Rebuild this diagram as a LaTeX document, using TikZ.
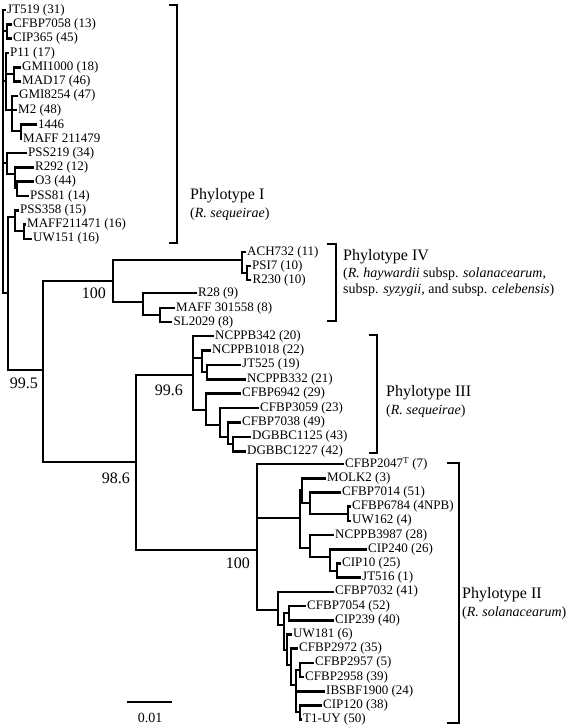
\documentclass[tikz,border=0pt]{standalone}
\usepackage{fontspec}
\setmainfont{Liberation Serif}
\usetikzlibrary{positioning}

\begin{document}
\begin{tikzpicture}[x=1pt, y=-1pt]
\tikzstyle{br}=[line width=2.6pt]
\tikzstyle{brk}=[line width=2.6pt]
\tikzstyle{tip}=[anchor=west, inner sep=1.5pt, font=\fontsize{13}{13}\selectfont]
\tikzstyle{boot}=[anchor=north east, inner sep=0pt, font=\fontsize{16}{16}\selectfont]
\tikzstyle{clade}=[anchor=west, inner sep=0pt, font=\fontsize{16}{16}\selectfont]
\tikzstyle{sub}=[anchor=west, inner sep=0pt, font=\fontsize{14}{16}\selectfont, align=left]
\useasboundingbox (0,0) rectangle (568,728);

% phylotype I
\coordinate (r0) at (3,150);
\coordinate (r1) at (8,293);
\node[tip] (jt519) at (5.5,10) {JT519 (31)};
\coordinate (a1) at (7,31);
\node[tip] (cfbp7058) at (11.5,24.3) {CFBP7058 (13)};
\node[tip] (cip365) at (11.5,38.6) {CIP365 (45)};
\coordinate (a2) at (6,81);
\node[tip] (p11) at (8.5,52.9) {P11 (17)};
\coordinate (a3) at (14,74);
\node[tip] (gmi1000) at (20.5,67.2) {GMI1000 (18)};
\node[tip] (mad17) at (20.5,81.5) {MAD17 (46)};
\coordinate (a4) at (12,110);
\node[tip] (gmi8254) at (17.5,95.8) {GMI8254 (47)};
\node[tip] (m2) at (16.5,110.1) {M2 (48)};
\coordinate (a5) at (21,131);
\node[tip] (t1446) at (36.5,124.4) {1446};
\node[tip] (maff211479) at (21.5,138.7) {MAFF 211479};
\coordinate (b1) at (7,163);
\node[tip] (pss219) at (26.5,153) {PSS219 (34)};
\coordinate (b2) at (15,174);
\node[tip] (r292) at (33.5,167.3) {R292 (12)};
\coordinate (b3) at (17,188);
\node[tip] (o3) at (33.5,181.6) {O3 (44)};
\node[tip] (pss81) at (28.5,195.9) {PSS81 (14)};
\coordinate (c1) at (15,217);
\node[tip] (pss358) at (18.5,210.2) {PSS358 (15)};
\coordinate (c2) at (24,231);
\node[tip] (maff211471) at (25.5,224.5) {MAFF211471 (16)};
\node[tip] (uw151) at (31.5,238.8) {UW151 (16)};

\draw[br] (r0) |- (jt519.west) (r0) |- (a1) (r0) |- (a2) (r0) |- (b1) (r0) |- (r1);
\draw[br] (a1) |- (cfbp7058.west) (a1) |- (cip365.west);
\draw[br] (a2) |- (p11.west) (a2) |- (a3) (a2) |- (a4);
\draw[br] (a3) |- (gmi1000.west) (a3) |- (mad17.west);
\draw[br] (a4) |- (gmi8254.west) (a4) |- (m2.west) (a4) |- (a5);
\draw[br] (a5) |- (t1446.west) (a5) |- (maff211479.west);
\draw[br] (b1) |- (pss219.west) (b1) |- (b2);
\draw[br] (b2) |- (r292.west) (b2) |- (b3);
\draw[br] (b3) |- (o3.west) (b3) |- (pss81.west);
\draw[br] (c1) |- (pss358.west) (c1) |- (c2);
\draw[br] (c2) |- (maff211471.west) (c2) |- (uw151.west);

% backbone
\coordinate (n95) at (43,370);
\coordinate (n986) at (136,462);
\draw[br] (r1) |- (c1) (r1) |- (n95);

% phylotype IV
\coordinate (p4) at (113,281);
\coordinate (q1) at (242,260);
\node[tip] (ach732) at (245.5,252) {ACH732 (11)};
\coordinate (q2) at (247,273);
\node[tip] (psi7) at (250.5,266) {PSI7 (10)};
\node[tip] (r230) at (251,280) {R230 (10)};
\coordinate (q3) at (143,302);
\node[tip] (r28) at (196.5,293) {R28 (9)};
\coordinate (q4) at (160,315);
\node[tip] (maff301558) at (174.5,308) {MAFF 301558 (8)};
\node[tip] (sl2029) at (172,322) {SL2029 (8)};

\draw[br] (n95) |- (p4) (n95) |- (n986);
\draw[br] (p4) |- (q1) (p4) |- (q3);
\draw[br] (q1) |- (ach732.west) (q1) |- (q2);
\draw[br] (q2) |- (psi7.west) (q2) |- (r230.west);
\draw[br] (q3) |- (r28.west) (q3) |- (q4);
\draw[br] (q4) |- (maff301558.west) (q4) |- (sl2029.west);

% phylotype III
\coordinate (p3) at (193,375);
\node[tip] (ncppb342) at (213.5,336) {NCPPB342 (20)};
\coordinate (q5) at (202,358);
\node[tip] (ncppb1018) at (210.5,350.4) {NCPPB1018 (22)};
\coordinate (q6) at (207,372);
\node[tip] (jt525) at (240.5,364.8) {JT525 (19)};
\node[tip] (ncppb332) at (245.5,379.2) {NCPPB332 (21)};
\coordinate (q7) at (206,410);
\node[tip] (cfbp6942) at (240.5,393.6) {CFBP6942 (29)};
\coordinate (q8) at (220,425);
\node[tip] (cfbp3059) at (258.5,408) {CFBP3059 (23)};
\coordinate (q9) at (228,437);
\node[tip] (cfbp7038) at (240.5,422.4) {CFBP7038 (49)};
\coordinate (q10) at (233,444);
\node[tip] (dgbbc1125) at (250.5,436.8) {DGBBC1125 (43)};
\node[tip] (dgbbc1227) at (245.5,451.2) {DGBBC1227 (42)};

\draw[br] (n986) |- (p3);
\draw[br] (p3) |- (ncppb342.west) (p3) |- (q5) (p3) |- (q7);
\draw[br] (q5) |- (ncppb1018.west) (q5) |- (q6);
\draw[br] (q6) |- (jt525.west) (q6) |- (ncppb332.west);
\draw[br] (q7) |- (cfbp6942.west) (q7) |- (q8);
\draw[br] (q8) |- (cfbp3059.west) (q8) |- (q9);
\draw[br] (q9) |- (cfbp7038.west) (q9) |- (q10);
\draw[br] (q10) |- (dgbbc1125.west) (q10) |- (dgbbc1227.west);

% phylotype II
\coordinate (p2) at (257,550);
\node[tip] (cfbp2047) at (343.5,464) {CFBP2047\textsuperscript{T} (7)};
\coordinate (q11) at (300,518);
\coordinate (q13) at (302,490);
\node[tip] (molk2) at (325.5,478.2) {MOLK2 (3)};
\coordinate (q15) at (310,503);
\node[tip] (cfbp7014) at (340.5,492.4) {CFBP7014 (51)};
\coordinate (q16) at (348,514);
\node[tip] (cfbp6784) at (350.5,506.6) {CFBP6784 (4NPB)};
\node[tip] (uw162) at (350.5,520.8) {UW162 (4)};
\coordinate (q14) at (310,548);
\node[tip] (ncppb3987) at (333.5,535) {NCPPB3987 (28)};
\coordinate (q17) at (330,557);
\node[tip] (cip240) at (366.5,549.2) {CIP240 (26)};
\coordinate (q18) at (337,571);
\node[tip] (cip10) at (340.5,563.4) {CIP10 (25)};
\node[tip] (jt516) at (360.5,577.6) {JT516 (1)};
\coordinate (q12) at (278,610);
\node[tip] (cfbp7032) at (333.5,591.8) {CFBP7032 (41)};
\coordinate (q19) at (284,625);
\coordinate (q20) at (289,613);
\node[tip] (cfbp7054) at (305.5,606) {CFBP7054 (52)};
\node[tip] (cip239) at (333.5,620.2) {CIP239 (40)};
\coordinate (q21) at (287,650);
\node[tip] (uw181) at (291.5,634.4) {UW181 (6)};
\coordinate (q22) at (291,665);
\node[tip] (cfbp2972) at (297.5,648.6) {CFBP2972 (35)};
\coordinate (q23) at (296,685);
\coordinate (q24) at (300,670);
\node[tip] (cfbp2957) at (313.5,662.8) {CFBP2957 (5)};
\node[tip] (cfbp2958) at (303.5,677) {CFBP2958 (39)};
\node[tip] (ibsbf1900) at (324.5,691.2) {IBSBF1900 (24)};
\coordinate (q25) at (300,712);
\node[tip] (cip120) at (321.5,705.4) {CIP120 (38)};
\node[tip] (t1uy) at (301.5,719.6) {T1-UY (50)};

\draw[br] (n986) |- (p2);
\draw[br] (p2) |- (cfbp2047.west) (p2) |- (q11) (p2) |- (q12);
\draw[br] (q11) |- (q13) (q11) |- (q14);
\draw[br] (q13) |- (molk2.west) (q13) |- (q15);
\draw[br] (q15) |- (cfbp7014.west) (q15) |- (q16);
\draw[br] (q16) |- (cfbp6784.west) (q16) |- (uw162.west);
\draw[br] (q14) |- (ncppb3987.west) (q14) |- (q17);
\draw[br] (q17) |- (cip240.west) (q17) |- (q18);
\draw[br] (q18) |- (cip10.west) (q18) |- (jt516.west);
\draw[br] (q12) |- (cfbp7032.west) (q12) |- (q19);
\draw[br] (q19) |- (q20) (q19) |- (q21);
\draw[br] (q20) |- (cfbp7054.west) (q20) |- (cip239.west);
\draw[br] (q21) |- (uw181.west) (q21) |- (q22);
\draw[br] (q22) |- (cfbp2972.west) (q22) |- (q23);
\draw[br] (q23) |- (q24) (q23) |- (ibsbf1900.west) (q23) |- (q25);
\draw[br] (q24) |- (cfbp2957.west) (q24) |- (cfbp2958.west);
\draw[br] (q25) |- (cip120.west) (q25) |- (t1uy.west);

% bootstrap values
\node[boot] (s995) at ([shift={(-5,7.5)}]n95) {99.5};
\node[boot] (s100a) at ([shift={(-7,7)}]p4) {100};
\node[boot] (s996) at ([shift={(-10,10)}]p3) {99.6};
\node[boot] (s986) at ([shift={(-6,11)}]n986) {98.6};
\node[boot] (s100b) at ([shift={(-7,8)}]p2) {100};

% brackets
\draw[brk] (169,5) -- (177,5) -- (177,243) -- (169,243);
\draw[brk] (327,244) -- (336,244) -- (336,321) -- (327,321);
\draw[brk] (369,335) -- (377,335) -- (377,453) -- (369,453);
\draw[brk] (447,463) -- (459,463) -- (459,723) -- (447,723);
\node[clade] (labI) at (190,196) {Phylotype I};
\node[sub] (subI) at (190,214) {(\textit{R. sequeirae})};
\node[clade] (labIV) at (343,257) {Phylotype IV};
\node[sub, anchor=north west] (subIV) at (343,268) {(\textit{R. haywardii} subsp. \textit{solanacearum},\\subsp. \textit{syzygii}, and subsp. \textit{celebensis})};
\node[clade] (labIII) at (386,393) {Phylotype III};
\node[sub] (subIII) at (386,411) {(\textit{R. sequeirae})};
\node[clade] (labII) at (462,595) {Phylotype II};
\node[sub] (subII) at (462,613) {(\textit{R. solanacearum})};

% scale
\coordinate (sb1) at (127,702);
\coordinate (sb2) at (172,702);
\draw[line width=1.6pt] (sb1) -- (sb2);
\node[font=\fontsize{14}{14}\selectfont, inner sep=0pt] (sc) at (150,718) {0.01};
\end{tikzpicture}
\end{document}
